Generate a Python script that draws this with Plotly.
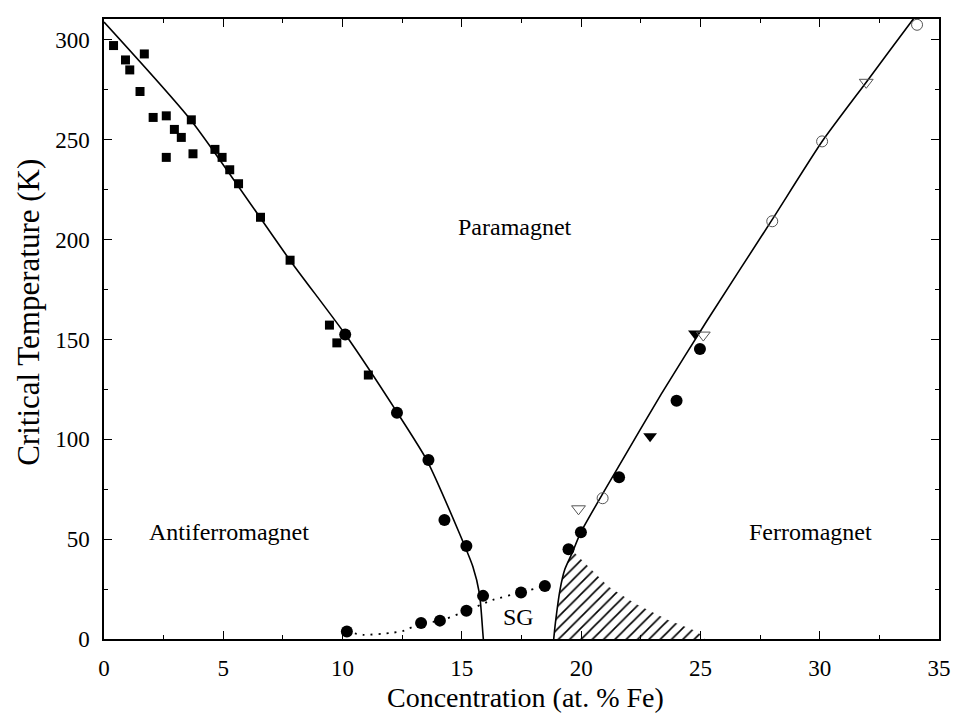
import plotly.graph_objects as go

# ---- measured points (concentration in at.% Fe, critical temperature in K) ----
sq_x = [0.40, 0.90, 1.08, 1.69, 1.51, 2.06, 2.61, 2.61, 2.95, 3.24, 3.66, 3.73,
        4.65, 4.95, 5.27, 5.64, 6.56, 7.80, 9.45, 9.76, 11.08]
sq_y = [297.2, 290, 285, 293, 274.2, 261.2, 262, 241.2, 255.2, 251.2, 260, 243,
        245.2, 241.2, 235, 228, 211.2, 189.7, 157.2, 148.3, 132.2]

afm_circ_x = [10.11, 12.28, 13.60, 14.27, 15.19, 15.89]
afm_circ_y = [152.5, 113.3, 89.6, 59.6, 46.6, 21.6]

sg_circ_x = [10.18, 13.29, 14.08, 15.19, 17.48, 18.48]
sg_circ_y = [3.8, 8.0, 9.2, 14.2, 23.3, 26.6]

fm_circ_x = [19.47, 19.99, 21.59, 24.00, 24.98]
fm_circ_y = [45.0, 53.5, 81.0, 119.3, 145.2]

open_circ_x = [20.90, 28.01, 30.10, 34.08]
open_circ_y = [70.5, 209.2, 249.2, 307.6]

tri_x = [22.89, 24.77]
tri_y = [101.6, 153.0]

open_tri_x = [19.89, 25.12, 31.95]
open_tri_y = [65.2, 152.2, 278.8]

# ---- phase boundaries ----
afm_line_x = [0, 3.66, 7.80, 10.11, 12.28, 13.53, 14.91, 15.46, 15.74, 15.88, 15.90]
afm_line_y = [309, 259.6, 189.6, 152.6, 113.6, 89.6, 52.6, 36.3, 22.6, 3, 0]

fm_line_x = [18.85, 18.92, 19.12, 19.32, 19.62, 19.99, 21.55, 23.35, 25.28, 27.98,
             30.12, 31.99, 33.86, 34.20]
fm_line_y = [0, 8, 25, 35, 43, 53.5, 86, 122.5, 159.5, 209.5, 249.5, 279.5, 309.5, 315]

sg_line_x = [10.18, 10.87, 12.08, 12.58, 13.29, 14.08, 15.19, 16.30, 17.48, 18.23, 18.48]
sg_line_y = [3.6, 2.1, 3.1, 4.2, 7.9, 9.1, 14.1, 19.6, 23.3, 25.8, 26.6]

mixed_x = [18.85, 18.92, 19.12, 19.32, 19.62, 20.30, 21.14, 22.24, 23.62, 24.86, 25.20, 18.85]
mixed_y = [0, 8, 25, 35, 44.5, 36.3, 26.3, 17.9, 9.6, 3.8, 0, 0]

region_labels = ["Paramagnet", "Antiferromagnet", "Ferromagnet", "SG"]
region_x = [17.22, 5.26, 29.62, 17.36]
region_y = [206.3, 53.8, 53.8, 11.0]

x_ticks = [0, 5, 10, 15, 20, 25, 30, 35]
y_ticks = [0, 50, 100, 150, 200, 250, 300]

x_title = "Concentration (at. % Fe)"
y_title = "Critical Temperature (K)"

FONT = "Liberation Serif"
W, H = 963, 726
ML, MR, MT, MB = 104, 15, 19, 87

fig = go.Figure()

# hatched mixed-phase region below the ferromagnetic boundary
fig.add_trace(go.Scatter(
    x=mixed_x, y=mixed_y, mode="lines", fill="toself",
    line=dict(width=0, color="rgba(0,0,0,0)"),
    fillcolor="rgba(0,0,0,0)",
    fillpattern=dict(shape="/", size=8, solidity=0.2, fgcolor="black", fgopacity=1),
    hoverinfo="skip", showlegend=False))

fig.add_trace(go.Scatter(x=afm_line_x, y=afm_line_y, mode="lines",
                         line=dict(color="black", width=1.6, shape="spline", smoothing=0.6),
                         showlegend=False))
fig.add_trace(go.Scatter(x=fm_line_x, y=fm_line_y, mode="lines",
                         line=dict(color="black", width=1.6, shape="spline", smoothing=0.6),
                         showlegend=False))
fig.add_trace(go.Scatter(x=sg_line_x, y=sg_line_y, mode="lines",
                         line=dict(color="black", width=1.8, dash="2px,6px", shape="spline", smoothing=0.6),
                         showlegend=False))

fig.add_trace(go.Scatter(x=sq_x, y=sq_y, mode="markers",
                         marker=dict(symbol="square", size=9, color="black"), showlegend=False))
for xs, ys in [(afm_circ_x, afm_circ_y), (sg_circ_x, sg_circ_y), (fm_circ_x, fm_circ_y)]:
    fig.add_trace(go.Scatter(x=xs, y=ys, mode="markers",
                             marker=dict(symbol="circle", size=12, color="black"), showlegend=False))
fig.add_trace(go.Scatter(x=open_circ_x, y=open_circ_y, mode="markers",
                         marker=dict(symbol="circle-open", size=11, color="#555",
                                     line=dict(width=1)), showlegend=False))
fig.add_trace(go.Scatter(x=tri_x, y=tri_y, mode="markers",
                         marker=dict(symbol="triangle-down", size=12, color="black"), showlegend=False))
fig.add_trace(go.Scatter(x=open_tri_x, y=open_tri_y, mode="markers",
                         marker=dict(symbol="triangle-down-open", size=12, color="#555",
                                     line=dict(width=1)), showlegend=False))

for t, x, y in zip(region_labels, region_x, region_y):
    fig.add_annotation(x=x, y=y, text=t, showarrow=False,
                       font=dict(family=FONT, size=24, color="black"),
                       xanchor="center", yanchor="middle")

# axis titles placed in paper coordinates
fig.add_annotation(text=x_title, xref="paper", yref="paper",
                   x=(530 - ML) / (W - ML - MR), y=-(697 - (H - MB)) / (H - MT - MB),
                   xanchor="center", yanchor="middle", showarrow=False,
                   font=dict(family=FONT, size=28, color="black"))
fig.add_annotation(text=y_title, xref="paper", yref="paper", textangle=-90,
                   x=-(ML - 27) / (W - ML - MR), y=((H - MB) - 312) / (H - MT - MB),
                   xanchor="center", yanchor="middle", showarrow=False,
                   font=dict(family=FONT, size=31, color="black"))

axis_common = dict(
    showline=True, linecolor="black", linewidth=1.5, mirror="ticks",
    ticks="inside", ticklen=8, tickwidth=1.2, tickcolor="black",
    showgrid=False, zeroline=False,
    tickfont=dict(family=FONT, size=23, color="black"),
)

fig.update_xaxes(range=[0, 35], tickvals=x_ticks, ticklabelstandoff=8,
                 minor=dict(dtick=2.5, ticks="inside", ticklen=4, tickcolor="black", tickwidth=1.2),
                 **axis_common)
fig.update_yaxes(range=[0, 310.5], tickvals=y_ticks, ticklabelstandoff=8,
                 minor=dict(dtick=25, ticks="inside", ticklen=4, tickcolor="black", tickwidth=1.2),
                 **axis_common)

fig.update_layout(
    width=W, height=H,
    margin=dict(l=ML, r=MR, t=MT, b=MB),
    paper_bgcolor="white", plot_bgcolor="white",
    font=dict(family=FONT, color="black"),
)

fig.write_html("out.html")
